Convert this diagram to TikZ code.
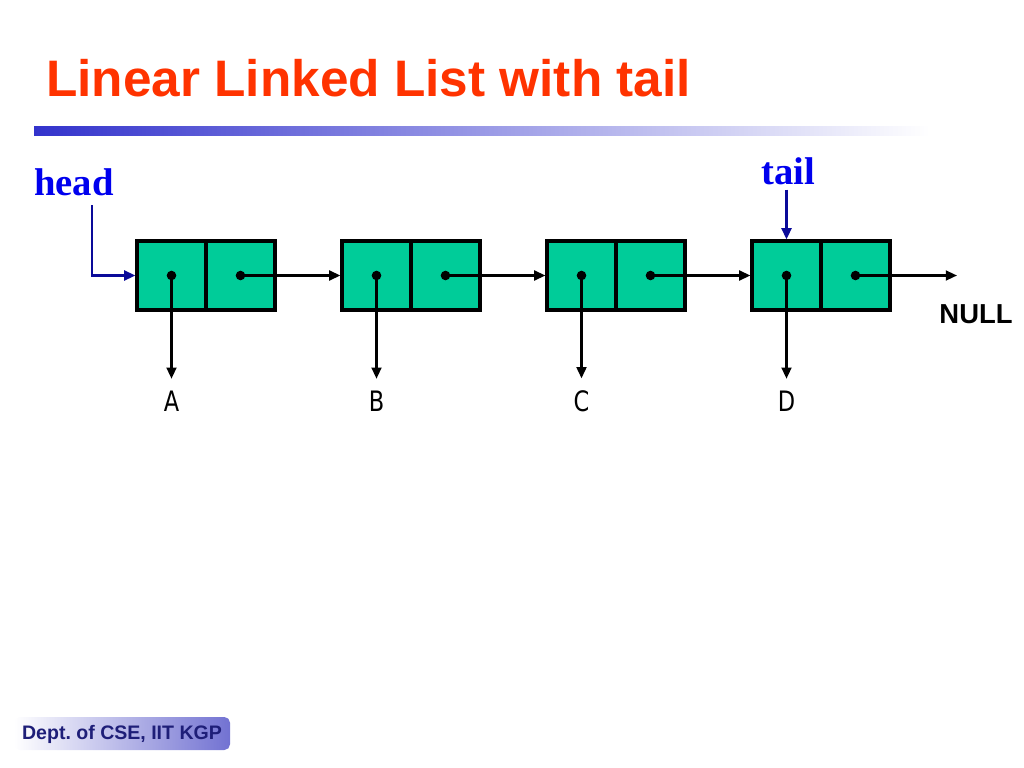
\documentclass[tikz,border=0pt]{standalone}
\usepackage{fontspec}
\setmainfont{Liberation Sans}
\newfontfamily\serifb{Liberation Serif}
\newfontfamily\labfont[FakeStretch=0.8]{DejaVu Sans}
\usetikzlibrary{arrows.meta}
\definecolor{titlered}{HTML}{FF3300}
\definecolor{barblue}{HTML}{3333CC}
\definecolor{cellgreen}{HTML}{00CC99}
\definecolor{ptrblue}{HTML}{0A0A99}
\definecolor{labblue}{HTML}{0000EE}
\definecolor{footblue}{HTML}{7272D2}
\definecolor{foottext}{HTML}{1E1E78}
\begin{document}
\begin{tikzpicture}[x=0.025cm,y=-0.025cm]
\tikzstyle{cell} = [draw,fill=cellgreen,line width=2.2pt,minimum width=69*0.025cm,minimum height=69*0.025cm,inner sep=0pt];
\tikzstyle{link} = [-{Triangle[length=8pt,width=7pt]},line width=1.6pt];
\tikzstyle{ptr} = [-{Triangle[length=8pt,width=7pt]},line width=1.8pt,ptrblue];
\tikzstyle{item} = [font=\labfont\fontsize{20}{24}\selectfont];
\useasboundingbox (0,0) rectangle (1024,768);

% title and bar
\node [anchor=base west,inner sep=0pt,text=titlered,font=\bfseries\fontsize{36.5}{40}\selectfont] (title) at (46,97) {Linear Linked List with tail};
\shade [left color=barblue,right color=white] (34,127) rectangle (930,136);

% the four nodes
\node [cell] (n1a) at (171.5,275.5) {};
\node [cell] (n1b) at (240.5,275.5) {};
\node [cell] (n2a) at (376.5,275.5) {};
\node [cell] (n2b) at (445.5,275.5) {};
\node [cell] (n3a) at (581.5,275.5) {};
\node [cell] (n3b) at (650.5,275.5) {};
\node [cell] (n4a) at (786.5,275.5) {};
\node [cell] (n4b) at (855.5,275.5) {};

% data items
\node [item] (lA) at (171.5,401) {A};
\node [item] (lB) at (376.5,401) {B};
\node [item] (lC) at (581.5,401) {C};
\node [item] (lD) at (786.5,401) {D};
\node [font=\bfseries\fontsize{19.5}{22}\selectfont] (null) at (976,314) {NULL};
\coordinate (nullend) at (957,275.5);

\draw [link] (n1b.center) -- (n2a.west);
\draw [link] (n2b.center) -- (n3a.west);
\draw [link] (n3b.center) -- (n4a.west);
\draw [link] (n4b.center) -- (nullend);
\draw [link,shorten >=5pt] (n1a.center) -- (lA.north);
\draw [link,shorten >=5pt] (n2a.center) -- (lB.north);
\draw [link,shorten >=5pt] (n3a.center) -- (lC.north);
\draw [link,shorten >=5pt] (n4a.center) -- (lD.north);
\foreach \n in {n1a,n1b,n2a,n2b,n3a,n3b,n4a,n4b}
  \fill (\n.center) circle (3.4pt);

% head and tail
\node [text=labblue,font=\serifb\bfseries\fontsize{27.5}{30}\selectfont] (head) at (74,182) {head};
\node [text=labblue,font=\serifb\bfseries\fontsize{27.5}{30}\selectfont] (tail) at (788,171) {tail};
\coordinate (headtop) at (92,205);
\draw [ptr] (headtop) |- (n1a.west);
\draw [ptr] (tail.south -| n4a.north) -- (n4a.north);

% footer
\shade [rounded corners=4pt,left color=white,right color=footblue] (14,717) rectangle (230,750);
\node [text=foottext,font=\bfseries\fontsize{13.9}{16}\selectfont] (foot) at (122,734) {Dept.\ of CSE, IIT KGP};
\end{tikzpicture}
\end{document}
